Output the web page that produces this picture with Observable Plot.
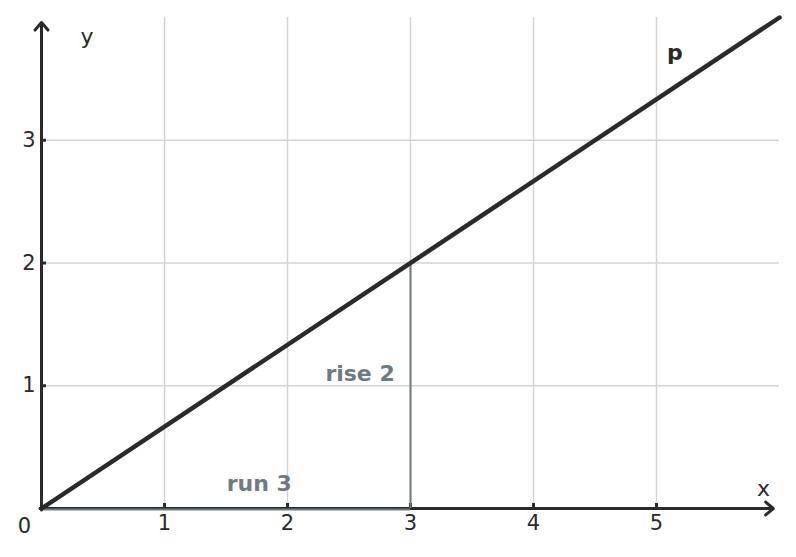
<!DOCTYPE html>
<html>
<head>
<meta charset="utf-8">
<script src="https://cdn.jsdelivr.net/npm/d3@7"></script>
<script src="https://cdn.jsdelivr.net/npm/@observablehq/plot@0.6"></script>
<style>
body { margin: 0; background: #fff; }
#chart { width: 796px; height: 557px; }
</style>
</head>
<body>
<div id="chart"></div>
<script>
// line p: y = 2/3 x
const lineX = [0, 6];
const lineY = [0, 4];
// rise / run
const runX = [0, 3];
const riseY = [0, 2];
const xTicks = [1, 2, 3, 4, 5];
const yTicks = [1, 2, 3];
const labels = [
  {x: 1.77, y: 0.2, text: "run 3", kind: "note"},
  {x: 2.59, y: 1.1, text: "rise 2", kind: "note"},
  {x: 5.15, y: 3.71, text: "p", kind: "name"}
];
const axisLabels = [
  {x: 0.37, y: 3.84, text: "y"},
  {x: 5.87, y: 0.16, text: "x"}
];

const dark = "#2a2a2a";
const gray = "#6e7a83";

const lineData = lineX.map((x, i) => ({x, y: lineY[i]}));

const chart = Plot.plot({
  width: 796,
  height: 557,
  marginLeft: 41,
  marginRight: 17,
  marginTop: 17,
  marginBottom: 49,
  x: {domain: [0, 6]},
  y: {domain: [0, 4]},
  style: {fontFamily: "DejaVu Sans", fontSize: "21px", color: dark, background: "#fff"},
  marks: [
    Plot.ruleX(xTicks, {y1: 0, y2: 4, stroke: "#d4d4d4", strokeWidth: 1.5}),
    Plot.ruleY(yTicks, {x1: 0, x2: 6, stroke: "#d4d4d4", strokeWidth: 1.5}),
    // axes with arrowheads
    Plot.arrow([{x1: 0, y1: 0, x2: 5.95, y2: 0}], {x1: "x1", y1: "y1", x2: "x2", y2: "y2", stroke: dark, strokeWidth: 3, headLength: 5, headAngle: 80, insetStart: -1.5}),
    Plot.arrow([{x1: 0, y1: 0, x2: 0, y2: 3.96}], {x1: "x1", y1: "y1", x2: "x2", y2: "y2", stroke: dark, strokeWidth: 3, headLength: 5, headAngle: 80, insetStart: -1.5}),
    Plot.axisX(xTicks, {tickSize: -5, tickPadding: 12, tickFormat: d3.format("d"), stroke: dark, strokeWidth: 3, fill: dark, fontSize: 21, label: null}),
    Plot.axisY(yTicks, {tickSize: -5, tickPadding: 11, tickFormat: d3.format("d"), stroke: dark, strokeWidth: 3, fill: dark, fontSize: 21, label: null}),
    Plot.text([0], {x: d => d, y: 0, text: d => String(d), dx: -17, dy: 18, fill: dark, fontSize: 21}),
    // run and rise
    Plot.ruleY([0], {x1: runX[0], x2: runX[1], stroke: gray, strokeWidth: 2, dy: 1}),
    Plot.ruleX([runX[1]], {y1: riseY[0], y2: riseY[1], stroke: gray, strokeWidth: 2}),
    // main line
    Plot.line(lineData, {x: "x", y: "y", stroke: dark, strokeWidth: 4.5}),
    Plot.text(labels.filter(d => d.kind === "note"), {x: "x", y: "y", text: "text", fill: gray, fontWeight: "bold", fontSize: 22}),
    Plot.text(labels.filter(d => d.kind === "name"), {x: "x", y: "y", text: "text", fill: dark, fontWeight: "bold", fontSize: 22}),
    Plot.text(axisLabels, {x: "x", y: "y", text: "text", fill: dark, fontSize: 22})
  ]
});
document.getElementById("chart").append(chart);
</script>
</body>
</html>
